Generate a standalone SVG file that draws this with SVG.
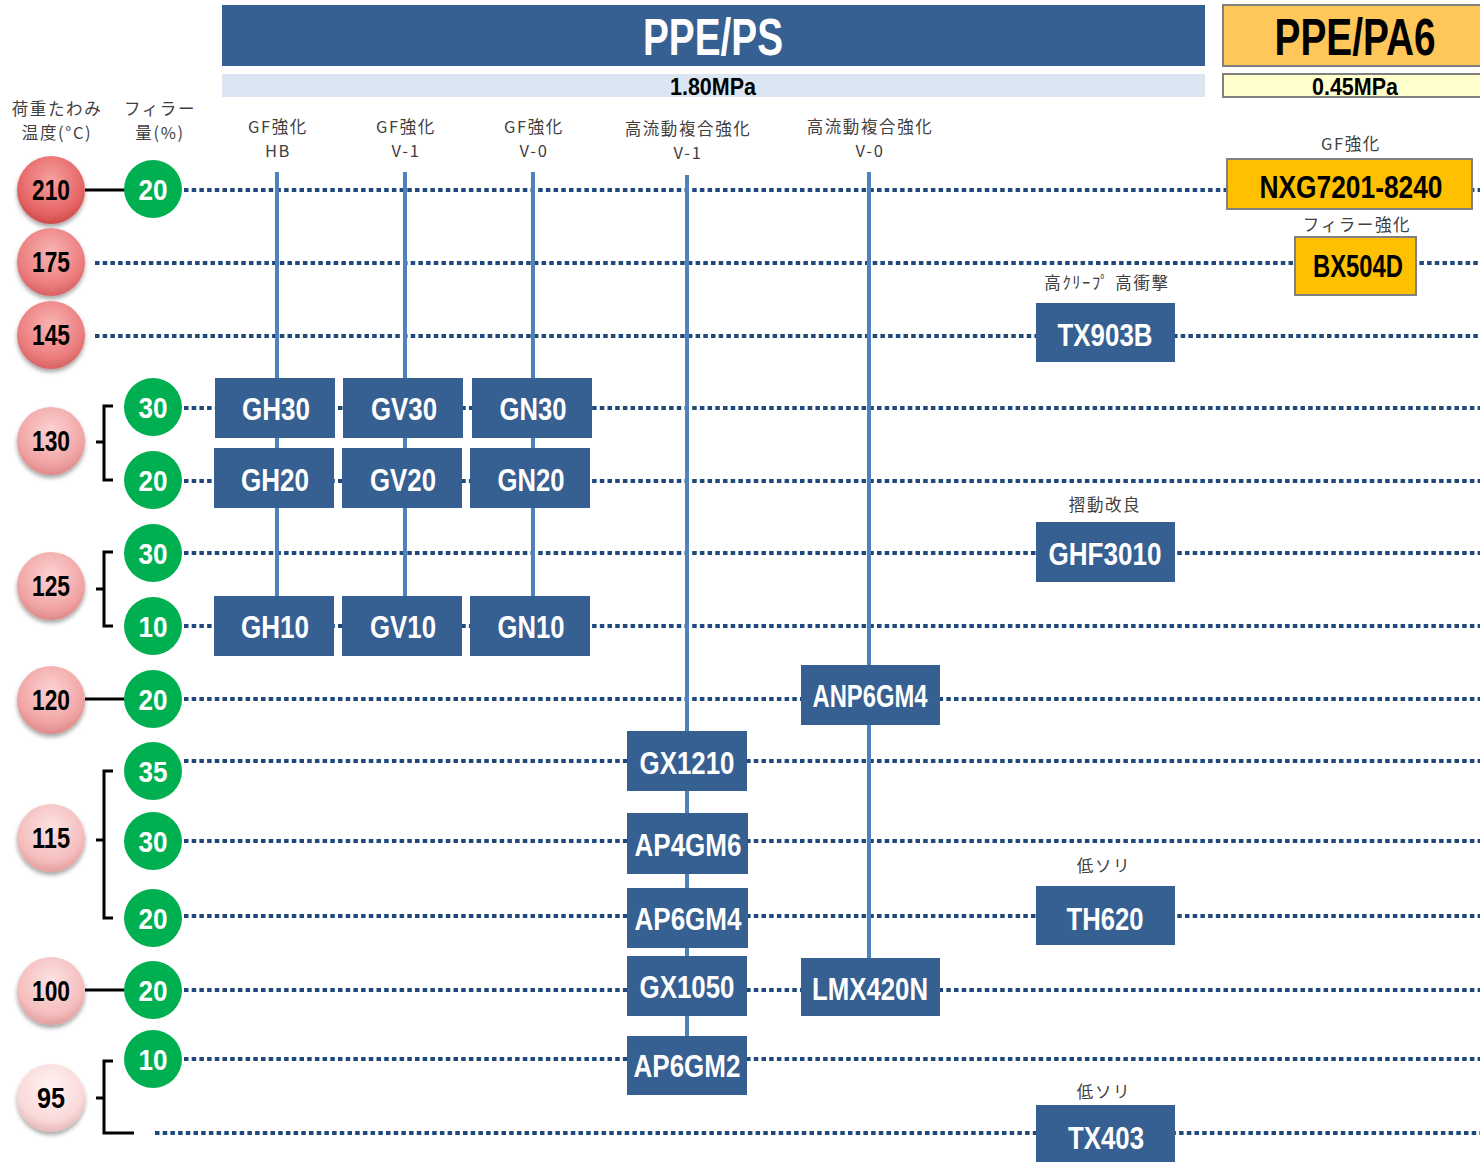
<svg xmlns="http://www.w3.org/2000/svg" width="1480" height="1163" viewBox="0 0 1480 1163">
<style>
.n{font-family:"Liberation Sans",Arial,sans-serif;font-weight:bold;text-anchor:middle}
.bx{fill:#376092}
.bt{fill:#fff;font-size:31px}
.yb{fill:#FFC000;stroke:#808080;stroke-width:2}
.yt{fill:#000;font-size:31px}
.rt{fill:#000;font-size:29px}
.gc{fill:#00B050}
.gt{fill:#fff;font-size:30px}
.lb{font-family:"Noto Sans CJK JP","Noto Sans",sans-serif;font-size:16.5px;letter-spacing:1.6px;fill:#404040;text-anchor:middle}
.dot{stroke:#1F497D;stroke-width:4;stroke-dasharray:4.5 3.2;fill:none}
.vl{stroke:#4F81BD;stroke-width:4;fill:none}
.bk{stroke:#000;stroke-width:3;fill:none}
</style>
<defs>
<radialGradient id="r1" cx="0.5" cy="0.35" r="0.7"><stop offset="0" stop-color="#F7A0A0"/><stop offset="0.7" stop-color="#E56464"/><stop offset="1" stop-color="#C84444"/></radialGradient>
<radialGradient id="r2" cx="0.5" cy="0.35" r="0.7"><stop offset="0" stop-color="#F9B4B4"/><stop offset="0.7" stop-color="#EC7C7C"/><stop offset="1" stop-color="#D05A5A"/></radialGradient>
<radialGradient id="r3" cx="0.5" cy="0.35" r="0.7"><stop offset="0" stop-color="#FCD2D2"/><stop offset="0.7" stop-color="#F1A4A4"/><stop offset="1" stop-color="#D88080"/></radialGradient>
<radialGradient id="r4" cx="0.5" cy="0.35" r="0.7"><stop offset="0" stop-color="#FDE2E2"/><stop offset="0.7" stop-color="#F5BDBD"/><stop offset="1" stop-color="#DC9494"/></radialGradient>
<radialGradient id="r5" cx="0.5" cy="0.35" r="0.7"><stop offset="0" stop-color="#FFF4F4"/><stop offset="0.7" stop-color="#FAD8D8"/><stop offset="1" stop-color="#E0AEAE"/></radialGradient>
<filter id="sh" x="-30%" y="-30%" width="160%" height="170%"><feDropShadow dx="0" dy="3" stdDeviation="2" flood-color="#000" flood-opacity="0.35"/></filter>
</defs>

<g id="header">
<rect x="222" y="5" width="983" height="61" fill="#376092"/>
<text class="n" x="713" y="55" font-size="51" fill="#fff" textLength="140" lengthAdjust="spacingAndGlyphs">PPE/PS</text>
<rect x="222" y="74" width="983" height="23" fill="#DCE6F2"/>
<text class="n" x="713" y="95" font-size="24" fill="#000" textLength="86" lengthAdjust="spacingAndGlyphs">1.80MPa</text>
<rect x="1223" y="5" width="260" height="61" fill="#FFC65A" stroke="#808080" stroke-width="2"/>
<text class="n" x="1355" y="55" font-size="51" fill="#000" textLength="161" lengthAdjust="spacingAndGlyphs">PPE/PA6</text>
<rect x="1223" y="74" width="260" height="23" fill="#FFFFCC" stroke="#808080" stroke-width="2"/>
<text class="n" x="1355" y="95" font-size="24" fill="#000" textLength="86" lengthAdjust="spacingAndGlyphs">0.45MPa</text>
</g>

<g id="labels">
<text class="lb" x="57" y="115">荷重たわみ</text>
<text class="lb" x="57" y="139">温度(°C)</text>
<text class="lb" x="160" y="115">フィラー</text>
<text class="lb" x="160" y="139">量(%)</text>
<text class="lb" x="278" y="133">GF強化</text>
<text class="lb" x="278" y="157">HB</text>
<text class="lb" x="406" y="133">GF強化</text>
<text class="lb" x="406" y="157">V-1</text>
<text class="lb" x="534" y="133">GF強化</text>
<text class="lb" x="534" y="157">V-0</text>
<text class="lb" x="688" y="135">高流動複合強化</text>
<text class="lb" x="688" y="159">V-1</text>
<text class="lb" x="870" y="133">高流動複合強化</text>
<text class="lb" x="870" y="157">V-0</text>
<text class="lb" x="1351" y="150">GF強化</text>
<text class="lb" x="1357" y="231">フィラー強化</text>
<text class="lb" x="1107" y="289">高ｸﾘｰﾌﾟ 高衝撃</text>
<text class="lb" x="1105" y="511">摺動改良</text>
<text class="lb" x="1104" y="872">低ソリ</text>
<text class="lb" x="1104" y="1098">低ソリ</text>
</g>

<g id="connectors">
<line class="dot" x1="184" y1="190" x2="1480" y2="190"/>
<line class="dot" x1="95" y1="263" x2="1480" y2="263"/>
<line class="dot" x1="95" y1="336" x2="1480" y2="336"/>
<line class="dot" x1="184" y1="408" x2="1480" y2="408"/>
<line class="dot" x1="184" y1="481" x2="1480" y2="481"/>
<line class="dot" x1="184" y1="553" x2="1480" y2="553"/>
<line class="dot" x1="184" y1="626" x2="1480" y2="626"/>
<line class="dot" x1="184" y1="699" x2="1480" y2="699"/>
<line class="dot" x1="184" y1="761" x2="1480" y2="761"/>
<line class="dot" x1="184" y1="841" x2="1480" y2="841"/>
<line class="dot" x1="184" y1="916" x2="1480" y2="916"/>
<line class="dot" x1="184" y1="990" x2="1480" y2="990"/>
<line class="dot" x1="184" y1="1059" x2="1480" y2="1059"/>
<line class="dot" x1="155" y1="1133" x2="1480" y2="1133"/>
<line class="vl" x1="277" y1="172" x2="277" y2="626"/>
<line class="vl" x1="405" y1="172" x2="405" y2="626"/>
<line class="vl" x1="533" y1="172" x2="533" y2="626"/>
<line class="vl" x1="687" y1="175" x2="687" y2="1060"/>
<line class="vl" x1="869" y1="172" x2="869" y2="990"/>
<line class="bk" x1="85" y1="190" x2="125" y2="190"/>
<line class="bk" x1="85" y1="699" x2="125" y2="699"/>
<line class="bk" x1="85" y1="990" x2="125" y2="990"/>
<path class="bk" d="M113 406H104V480H113M96 442H104"/>
<path class="bk" d="M113 552H104V626H113M96 589H104"/>
<path class="bk" d="M113 771H104V918H113M96 840H104"/>
<path class="bk" d="M113 1061H104V1133H134M96 1098H104"/>
</g>

<g id="temp210"><circle cx="51" cy="190" r="34" fill="url(#r1)" filter="url(#sh)"/><text class="n rt" x="51" y="200" textLength="38" lengthAdjust="spacingAndGlyphs">210</text></g>
<g id="temp175"><circle cx="51" cy="262" r="34" fill="url(#r2)" filter="url(#sh)"/><text class="n rt" x="51" y="272" textLength="38" lengthAdjust="spacingAndGlyphs">175</text></g>
<g id="temp145"><circle cx="51" cy="335" r="34" fill="url(#r2)" filter="url(#sh)"/><text class="n rt" x="51" y="345" textLength="38" lengthAdjust="spacingAndGlyphs">145</text></g>
<g id="temp130"><circle cx="51" cy="441" r="34" fill="url(#r3)" filter="url(#sh)"/><text class="n rt" x="51" y="451" textLength="38" lengthAdjust="spacingAndGlyphs">130</text></g>
<g id="temp125"><circle cx="51" cy="586" r="34" fill="url(#r3)" filter="url(#sh)"/><text class="n rt" x="51" y="596" textLength="38" lengthAdjust="spacingAndGlyphs">125</text></g>
<g id="temp120"><circle cx="51" cy="700" r="34" fill="url(#r3)" filter="url(#sh)"/><text class="n rt" x="51" y="710" textLength="38" lengthAdjust="spacingAndGlyphs">120</text></g>
<g id="temp115"><circle cx="51" cy="838" r="34" fill="url(#r4)" filter="url(#sh)"/><text class="n rt" x="51" y="848" textLength="38" lengthAdjust="spacingAndGlyphs">115</text></g>
<g id="temp100"><circle cx="51" cy="991" r="34" fill="url(#r4)" filter="url(#sh)"/><text class="n rt" x="51" y="1001" textLength="38" lengthAdjust="spacingAndGlyphs">100</text></g>
<g id="temp95"><circle cx="51" cy="1098" r="34" fill="url(#r5)" filter="url(#sh)"/><text class="n rt" x="51" y="1108" textLength="28" lengthAdjust="spacingAndGlyphs">95</text></g>

<g id="f210_20"><circle class="gc" cx="153" cy="189" r="29"/><text class="n gt" x="153" y="200" textLength="29" lengthAdjust="spacingAndGlyphs">20</text></g>
<g id="f130_30"><circle class="gc" cx="153" cy="407" r="29"/><text class="n gt" x="153" y="418" textLength="29" lengthAdjust="spacingAndGlyphs">30</text></g>
<g id="f130_20"><circle class="gc" cx="153" cy="480" r="29"/><text class="n gt" x="153" y="491" textLength="29" lengthAdjust="spacingAndGlyphs">20</text></g>
<g id="f125_30"><circle class="gc" cx="153" cy="553" r="29"/><text class="n gt" x="153" y="564" textLength="29" lengthAdjust="spacingAndGlyphs">30</text></g>
<g id="f125_10"><circle class="gc" cx="153" cy="626" r="29"/><text class="n gt" x="153" y="637" textLength="29" lengthAdjust="spacingAndGlyphs">10</text></g>
<g id="f120_20"><circle class="gc" cx="153" cy="699" r="29"/><text class="n gt" x="153" y="710" textLength="29" lengthAdjust="spacingAndGlyphs">20</text></g>
<g id="f115_35"><circle class="gc" cx="153" cy="771" r="29"/><text class="n gt" x="153" y="782" textLength="29" lengthAdjust="spacingAndGlyphs">35</text></g>
<g id="f115_30"><circle class="gc" cx="153" cy="841" r="29"/><text class="n gt" x="153" y="852" textLength="29" lengthAdjust="spacingAndGlyphs">30</text></g>
<g id="f115_20"><circle class="gc" cx="153" cy="918" r="29"/><text class="n gt" x="153" y="929" textLength="29" lengthAdjust="spacingAndGlyphs">20</text></g>
<g id="f100_20"><circle class="gc" cx="153" cy="990" r="29"/><text class="n gt" x="153" y="1001" textLength="29" lengthAdjust="spacingAndGlyphs">20</text></g>
<g id="f95_10"><circle class="gc" cx="153" cy="1059" r="29"/><text class="n gt" x="153" y="1070" textLength="29" lengthAdjust="spacingAndGlyphs">10</text></g>

<g id="NXG7201-8240"><rect class="yb" x="1227" y="159" width="245" height="50"/><text class="n yt" x="1351" y="198" textLength="183" lengthAdjust="spacingAndGlyphs">NXG7201-8240</text></g>
<g id="BX504D"><rect class="yb" x="1295" y="237" width="121" height="58"/><text class="n yt" x="1358" y="277" textLength="90" lengthAdjust="spacingAndGlyphs">BX504D</text></g>
<g id="TX903B"><rect class="bx" x="1036" y="303" width="139" height="59"/><text class="n bt" x="1105" y="346" textLength="95" lengthAdjust="spacingAndGlyphs">TX903B</text></g>
<g id="GH30"><rect class="bx" x="215" y="378" width="120" height="60"/><text class="n bt" x="276" y="420" textLength="68" lengthAdjust="spacingAndGlyphs">GH30</text></g>
<g id="GV30"><rect class="bx" x="343" y="378" width="120" height="60"/><text class="n bt" x="404" y="420" textLength="66" lengthAdjust="spacingAndGlyphs">GV30</text></g>
<g id="GN30"><rect class="bx" x="472" y="378" width="120" height="60"/><text class="n bt" x="533" y="420" textLength="67" lengthAdjust="spacingAndGlyphs">GN30</text></g>
<g id="GH20"><rect class="bx" x="214" y="448" width="120" height="60"/><text class="n bt" x="275" y="491" textLength="68" lengthAdjust="spacingAndGlyphs">GH20</text></g>
<g id="GV20"><rect class="bx" x="342" y="448" width="120" height="60"/><text class="n bt" x="403" y="491" textLength="66" lengthAdjust="spacingAndGlyphs">GV20</text></g>
<g id="GN20"><rect class="bx" x="470" y="448" width="120" height="60"/><text class="n bt" x="531" y="491" textLength="67" lengthAdjust="spacingAndGlyphs">GN20</text></g>
<g id="GHF3010"><rect class="bx" x="1036" y="522" width="139" height="60"/><text class="n bt" x="1105" y="565" textLength="113" lengthAdjust="spacingAndGlyphs">GHF3010</text></g>
<g id="GH10"><rect class="bx" x="214" y="596" width="120" height="60"/><text class="n bt" x="275" y="638" textLength="68" lengthAdjust="spacingAndGlyphs">GH10</text></g>
<g id="GV10"><rect class="bx" x="342" y="596" width="120" height="60"/><text class="n bt" x="403" y="638" textLength="66" lengthAdjust="spacingAndGlyphs">GV10</text></g>
<g id="GN10"><rect class="bx" x="470" y="596" width="120" height="60"/><text class="n bt" x="531" y="638" textLength="67" lengthAdjust="spacingAndGlyphs">GN10</text></g>
<g id="ANP6GM4"><rect class="bx" x="801" y="665" width="139" height="60"/><text class="n bt" x="870" y="707" textLength="115" lengthAdjust="spacingAndGlyphs">ANP6GM4</text></g>
<g id="GX1210"><rect class="bx" x="627" y="731" width="120" height="60"/><text class="n bt" x="687" y="774" textLength="95" lengthAdjust="spacingAndGlyphs">GX1210</text></g>
<g id="AP4GM6"><rect class="bx" x="627" y="813" width="121" height="61"/><text class="n bt" x="688" y="856" textLength="107" lengthAdjust="spacingAndGlyphs">AP4GM6</text></g>
<g id="AP6GM4"><rect class="bx" x="627" y="888" width="121" height="60"/><text class="n bt" x="688" y="930" textLength="107" lengthAdjust="spacingAndGlyphs">AP6GM4</text></g>
<g id="TH620"><rect class="bx" x="1036" y="886" width="139" height="59"/><text class="n bt" x="1105" y="930" textLength="77" lengthAdjust="spacingAndGlyphs">TH620</text></g>
<g id="GX1050"><rect class="bx" x="627" y="956" width="120" height="60"/><text class="n bt" x="687" y="998" textLength="95" lengthAdjust="spacingAndGlyphs">GX1050</text></g>
<g id="LMX420N"><rect class="bx" x="801" y="958" width="139" height="58"/><text class="n bt" x="870" y="1000" textLength="116" lengthAdjust="spacingAndGlyphs">LMX420N</text></g>
<g id="AP6GM2"><rect class="bx" x="627" y="1036" width="120" height="59"/><text class="n bt" x="687" y="1077" textLength="107" lengthAdjust="spacingAndGlyphs">AP6GM2</text></g>
<g id="TX403"><rect class="bx" x="1036" y="1105" width="139" height="57"/><text class="n bt" x="1106" y="1149" textLength="76" lengthAdjust="spacingAndGlyphs">TX403</text></g>
</svg>
